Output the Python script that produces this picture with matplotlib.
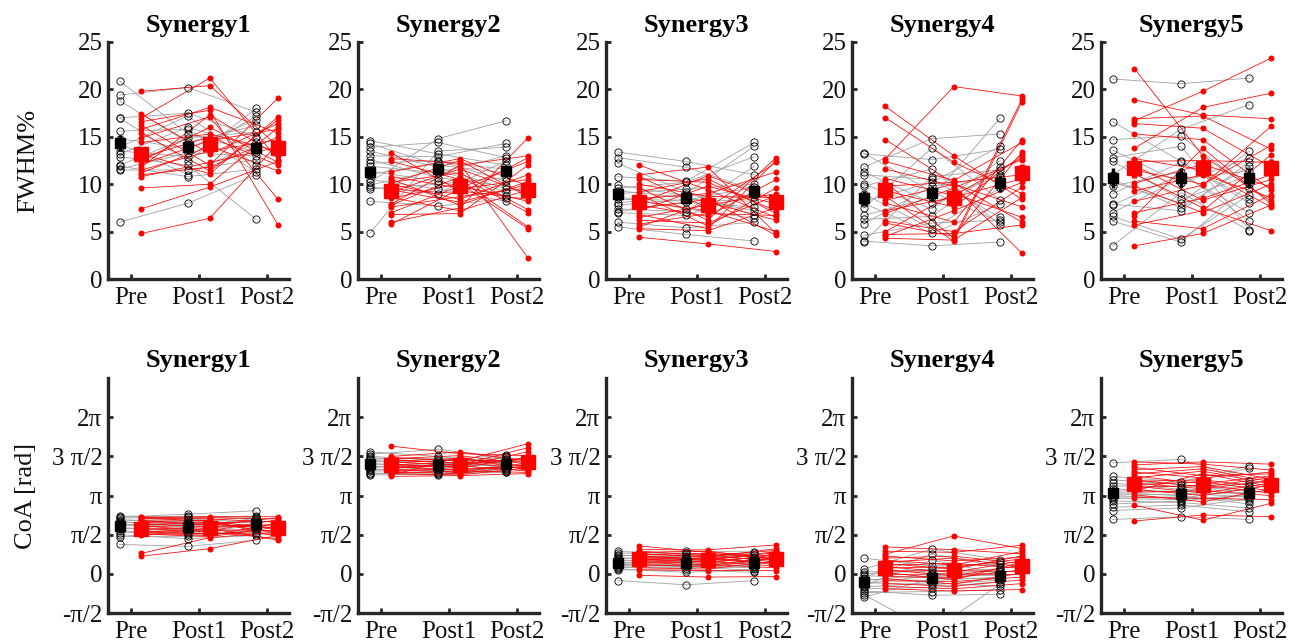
import numpy as np
import matplotlib
matplotlib.use("Agg")
import matplotlib.pyplot as plt

plt.rcParams["font.family"] = ["Liberation Serif", "DejaVu Serif"]
plt.rcParams["axes.unicode_minus"] = False

sessions = ["Pre", "Post1", "Post2"]
synergies = ["Synergy1", "Synergy2", "Synergy3", "Synergy4", "Synergy5"]

# ---------------- FWHM (%) per subject: [Pre, Post1, Post2] ----------------
fwhm_ctrl_syn1 = [[20.9, 15.3, 13.4], [19.4, 20.2, 17.6], [18.8, 14.4, 16.2], [17.0, 17.5, 15.0],
                  [17.0, 12.4, 18.0], [15.6, 15.8, 11.3], [14.8, 13.8, 16.8], [14.3, 11.0, 14.4],
                  [13.9, 17.2, 12.0], [13.5, 12.9, 17.2], [13.2, 16.0, 13.9], [12.9, 12.0, 6.3],
                  [12.0, 14.9, 15.5], [11.9, 10.8, 11.6], [11.6, 13.3, 13.0], [11.5, 11.5, 12.6],
                  [6.0, 8.0, 11.0]]
fwhm_train_syn1 = [[19.8, 20.4, 14.0], [17.4, 13.2, 16.4], [17.0, 21.2, 12.6], [16.6, 17.8, 5.7],
                   [16.2, 12.0, 19.1], [15.8, 18.1, 15.4], [15.4, 11.4, 16.8], [14.9, 17.1, 8.4],
                   [14.4, 15.3, 13.5], [13.2, 11.1, 17.1], [12.5, 16.0, 12.3], [12.1, 14.6, 15.8],
                   [11.8, 17.3, 13.0], [11.5, 13.5, 14.7], [11.2, 14.0, 11.4], [11.0, 11.8, 15.0],
                   [10.8, 12.3, 13.9], [9.6, 10.0, 16.0], [7.4, 9.7, 12.4], [4.8, 6.4, 14.3],
                   [12.8, 15.0, 12.0]]

fwhm_ctrl_syn2 = [[14.6, 13.2, 12.0], [14.3, 12.0, 11.2], [13.9, 14.4, 12.8], [13.5, 11.8, 9.5],
                  [13.0, 12.9, 14.3], [12.6, 10.7, 9.8], [12.2, 12.5, 10.3], [11.9, 11.2, 13.0],
                  [11.4, 10.3, 8.8], [11.0, 12.3, 11.6], [10.5, 9.5, 8.2], [10.2, 14.8, 16.7],
                  [9.9, 11.5, 9.2], [9.7, 9.0, 12.5], [9.5, 10.0, 10.7], [8.2, 7.7, 8.5],
                  [4.8, 13.5, 13.9]]
fwhm_train_syn2 = [[13.3, 9.3, 8.4], [12.7, 12.2, 2.2], [12.4, 10.5, 5.5], [11.3, 12.7, 9.8],
                   [10.8, 9.6, 12.4], [10.5, 7.8, 10.3], [10.2, 11.2, 7.3], [10.0, 8.4, 11.0],
                   [10.1, 12.5, 8.7], [9.5, 9.0, 12.8], [9.2, 11.6, 9.0], [9.4, 8.1, 10.0],
                   [8.5, 10.1, 5.3], [8.6, 7.2, 9.4], [7.9, 12.0, 13.0], [7.6, 8.7, 9.6],
                   [7.8, 10.8, 7.0], [6.8, 6.9, 12.0], [7.0, 9.8, 8.2], [6.0, 7.5, 14.9],
                   [5.8, 9.5, 10.5]]

fwhm_ctrl_syn3 = [[13.4, 12.4, 11.0], [12.8, 11.8, 9.4], [12.2, 9.2, 6.7], [10.8, 10.3, 14.4],
                  [9.9, 8.8, 8.6], [9.6, 10.2, 12.9], [9.3, 8.6, 7.2], [9.0, 9.5, 10.0],
                  [8.7, 7.4, 6.4], [8.4, 8.3, 9.7], [8.0, 9.0, 14.0], [7.8, 8.4, 8.2],
                  [7.4, 7.1, 11.9], [7.1, 8.1, 7.6], [7.0, 6.7, 9.0], [6.0, 5.4, 6.0],
                  [5.5, 4.7, 4.0]]
fwhm_train_syn3 = [[12.0, 9.4, 6.5], [11.0, 11.8, 4.8], [10.8, 7.5, 12.3], [10.5, 10.2, 7.2],
                   [10.0, 8.7, 8.6], [9.6, 6.2, 12.8], [9.2, 10.6, 6.9], [8.9, 5.6, 9.6],
                   [8.5, 9.0, 11.3], [8.2, 7.2, 5.0], [8.0, 10.9, 8.3], [7.8, 6.6, 10.5],
                   [7.5, 8.4, 4.6], [7.2, 9.8, 7.9], [6.8, 5.3, 12.5], [6.5, 7.8, 9.0],
                   [6.2, 5.9, 8.8], [5.8, 6.9, 6.7], [5.5, 8.1, 6.2], [5.3, 5.1, 7.5],
                   [4.4, 3.7, 2.9]]

fwhm_ctrl_syn4 = [[13.3, 9.2, 6.0], [13.2, 12.6, 13.7], [11.8, 14.8, 15.3], [11.3, 8.0, 11.0],
                  [11.0, 10.5, 6.5], [10.0, 7.4, 12.5], [9.8, 11.6, 5.7], [9.0, 5.3, 9.6],
                  [8.2, 10.2, 14.0], [8.0, 4.8, 7.9], [7.5, 13.8, 8.3], [6.7, 8.6, 17.0],
                  [6.3, 6.6, 11.8], [5.8, 9.8, 10.8], [4.6, 5.9, 6.2], [4.0, 3.5, 3.9],
                  [3.9, 10.8, 11.5]]
fwhm_train_syn4 = [[18.2, 13.0, 8.4], [17.0, 12.3, 9.0], [14.7, 10.1, 6.0], [12.7, 20.3, 19.3],
                   [12.4, 10.4, 14.4], [11.6, 9.8, 2.7], [10.6, 8.8, 12.8], [10.2, 4.3, 19.0],
                   [9.8, 10.2, 11.0], [9.3, 7.6, 13.1], [8.7, 4.0, 18.7], [8.3, 10.0, 7.6],
                   [8.0, 6.0, 14.7], [7.2, 8.6, 10.6], [6.9, 9.6, 12.6], [6.1, 5.0, 9.7],
                   [5.9, 4.5, 13.4], [5.0, 9.0, 6.5], [4.7, 4.8, 5.7], [4.5, 7.2, 10.2],
                   [4.3, 4.1, 8.6]]

fwhm_ctrl_syn5 = [[21.1, 20.6, 21.2], [16.6, 12.4, 8.0], [14.7, 15.1, 9.6], [13.6, 10.1, 12.8],
                  [12.8, 14.0, 5.2], [12.4, 8.4, 10.9], [11.0, 15.8, 18.4], [10.5, 7.5, 11.9],
                  [9.8, 11.3, 6.1], [10.2, 8.0, 13.5], [9.0, 12.3, 8.4], [7.9, 7.2, 12.3],
                  [7.8, 11.0, 7.0], [7.0, 10.6, 11.4], [6.6, 4.2, 8.9], [6.1, 3.9, 10.0],
                  [3.5, 9.1, 5.1]]
fwhm_train_syn5 = [[22.2, 13.0, 8.2], [18.9, 17.3, 16.9], [16.9, 17.2, 13.7], [16.7, 19.8, 23.3],
                   [16.4, 15.9, 11.8], [15.3, 14.7, 9.4], [13.8, 18.1, 19.6], [12.7, 11.5, 7.6],
                   [12.4, 12.5, 12.3], [12.0, 8.3, 10.5], [11.5, 10.0, 14.1], [11.1, 7.5, 5.1],
                   [10.1, 12.1, 9.7], [9.8, 7.0, 10.0], [9.3, 11.0, 8.6], [8.2, 9.9, 16.1],
                   [7.0, 8.5, 11.0], [6.6, 13.8, 7.9], [6.1, 5.3, 8.9], [5.7, 7.2, 13.1],
                   [3.5, 4.8, 7.8]]

# ---------------- CoA (rad) per subject: [Pre, Post1, Post2] ----------------
coa_ctrl_syn1 = [[2.32, 2.26, 2.32], [2.28, 2.39, 2.53], [2.23, 2.32, 2.20], [2.17, 2.09, 2.28],
                 [2.12, 2.20, 2.06], [2.07, 1.95, 2.15], [2.04, 2.14, 1.92], [1.99, 1.88, 2.23],
                 [1.96, 2.04, 1.85], [1.92, 1.99, 2.10], [1.85, 1.76, 2.01], [1.81, 1.82, 1.65],
                 [1.73, 1.60, 1.96], [1.65, 1.68, 1.79], [1.57, 1.41, 1.54], [1.49, 1.51, 1.73],
                 [1.18, 1.10, 1.35]]
coa_train_syn1 = [[2.29, 2.20, 2.07], [2.26, 2.29, 2.29], [2.23, 2.12, 1.79], [2.20, 2.25, 2.20],
                  [2.15, 1.95, 2.25], [2.10, 2.15, 1.48], [2.06, 2.03, 2.12], [2.01, 1.87, 1.93],
                  [1.96, 2.07, 1.63], [1.92, 1.73, 2.17], [1.87, 1.99, 1.84], [1.82, 1.68, 1.41],
                  [1.77, 1.90, 1.98], [1.73, 1.59, 1.76], [1.68, 1.82, 1.35], [1.65, 1.54, 2.03],
                  [1.62, 1.77, 1.73], [1.60, 1.49, 1.88], [1.57, 1.63, 1.59], [0.82, 1.45, 1.68],
                  [0.71, 1.01, 1.54]]

coa_ctrl_syn2 = [[4.89, 4.71, 4.43], [4.79, 5.00, 4.62], [4.71, 4.56, 4.76], [4.67, 4.46, 4.30],
                 [4.60, 4.63, 4.52], [4.56, 4.37, 4.71], [4.49, 4.51, 4.26], [4.43, 4.29, 4.48],
                 [4.37, 4.41, 4.16], [4.32, 4.19, 4.57], [4.27, 4.34, 4.38], [4.21, 4.10, 4.21],
                 [4.16, 4.24, 4.67], [4.12, 4.15, 4.13], [4.05, 3.96, 4.35], [4.01, 4.05, 4.10],
                 [3.96, 4.01, 4.07]]
coa_train_syn2 = [[5.12, 4.82, 4.74], [4.71, 4.89, 4.54], [4.67, 4.52, 5.22], [4.62, 4.74, 4.40],
                  [4.57, 4.43, 4.63], [4.52, 4.62, 4.30], [4.48, 4.37, 5.06], [4.45, 4.57, 4.49],
                  [4.40, 4.26, 4.68], [4.37, 4.48, 4.21], [4.34, 4.30, 4.90], [4.30, 4.16, 4.37],
                  [4.27, 4.40, 4.59], [4.24, 4.34, 4.12], [4.19, 4.07, 4.45], [4.15, 4.21, 4.27],
                  [4.10, 4.02, 4.34], [4.05, 4.12, 4.07], [4.01, 3.97, 4.24], [3.96, 4.68, 4.16],
                  [3.91, 3.94, 4.02]]

coa_ctrl_syn3 = [[0.90, 0.79, 0.69], [0.82, 0.90, 0.88], [0.75, 0.68, 0.82], [0.71, 0.85, 0.57],
                 [0.64, 0.58, 0.75], [0.60, 0.72, 0.47], [0.55, 0.49, 0.63], [0.50, 0.63, 0.52],
                 [0.46, 0.44, 0.38], [0.41, 0.53, 0.42], [0.38, 0.35, 0.24], [0.33, 0.39, 0.33],
                 [0.28, 0.24, 0.28], [0.24, 0.30, 0.13], [0.20, 0.06, 0.19], [0.16, 0.16, 0.06],
                 [-0.27, -0.44, -0.27]]
coa_train_syn3 = [[1.12, 0.86, 0.71], [0.97, 0.96, 1.16], [0.91, 0.72, 0.94], [0.86, 0.91, 0.58],
                  [0.82, 0.66, 1.01], [0.77, 0.82, 0.61], [0.72, 0.57, 0.85], [0.69, 0.77, 0.47],
                  [0.66, 0.53, 0.90], [0.63, 0.69, 0.55], [0.60, 0.47, 0.75], [0.57, 0.63, 0.42],
                  [0.53, 0.42, 0.80], [0.50, 0.60, 0.38], [0.47, 0.33, 0.68], [0.42, 0.50, 0.31],
                  [0.38, 0.27, 0.64], [0.31, 0.38, 0.24], [0.24, 0.19, 0.52], [0.16, 0.13, 0.13],
                  [-0.06, -0.13, -0.11]]

coa_ctrl_syn4 = [[0.63, 0.31, 0.38], [0.19, 0.99, 0.57], [0.08, 0.08, 0.20], [0.00, 0.19, 0.47],
                 [-0.08, -0.13, 0.06], [-0.16, 0.79, 0.28], [-0.22, -0.27, -0.13], [-0.28, 0.00, 0.13],
                 [-0.35, -0.44, -0.25], [-0.41, -0.06, -0.06], [-0.47, 0.55, 0.00], [-0.53, -0.35, -0.50],
                 [-0.60, -0.55, -0.31], [-0.68, -0.86, -0.82], [-0.75, -0.71, -0.63], [-0.83, -2.31, -0.41],
                 [-0.94, -0.19, -0.19]]
coa_train_syn4 = [[1.08, 0.97, 0.80], [0.91, 0.86, 1.15], [0.79, 1.52, 1.01], [0.71, 0.52, 0.66],
                  [0.63, 0.71, 0.41], [0.55, 0.35, 0.90], [0.47, 0.63, 0.28], [0.41, 0.19, 0.72],
                  [0.35, 0.42, 0.22], [0.28, 0.06, 0.53], [0.24, 0.27, 0.60], [0.17, -0.08, 0.35],
                  [0.11, 0.13, 0.09], [0.05, -0.24, 0.47], [-0.03, 0.00, -0.03], [-0.11, -0.16, 0.16],
                  [-0.19, -0.41, 0.03], [-0.28, -0.31, -0.13], [-0.39, -0.50, -0.24], [-0.50, -0.60, -0.39],
                  [-0.60, -0.69, -0.63]]

coa_ctrl_syn5 = [[4.45, 4.59, 3.74], [3.91, 3.69, 4.32], [3.77, 3.58, 4.24], [3.64, 3.39, 3.33],
                 [3.53, 3.49, 3.61], [3.42, 3.24, 3.08], [3.33, 3.31, 3.52], [3.27, 3.13, 2.80],
                 [3.20, 3.17, 3.27], [3.14, 3.03, 3.42], [3.08, 3.08, 2.92], [3.02, 2.98, 3.14],
                 [2.92, 2.86, 2.64], [2.80, 2.92, 3.20], [2.67, 2.76, 2.48], [2.54, 2.64, 3.02],
                 [2.18, 2.29, 2.18]]
coa_train_syn5 = [[4.49, 4.40, 4.16], [4.37, 4.49, 4.40], [4.27, 3.93, 4.01], [4.18, 4.30, 3.80],
                  [4.08, 3.85, 4.08], [4.01, 4.21, 3.69], [3.93, 3.61, 3.93], [3.85, 4.12, 3.60],
                  [3.77, 3.49, 3.86], [3.71, 3.77, 3.46], [3.64, 3.41, 3.74], [3.58, 3.69, 3.33],
                  [3.52, 3.24, 3.64], [3.46, 3.55, 3.24], [3.39, 3.14, 3.55], [3.33, 4.02, 3.50],
                  [3.27, 3.33, 3.14], [3.17, 2.89, 3.39], [3.06, 3.03, 2.98], [2.75, 2.15, 2.83],
                  [2.12, 2.36, 2.29]]

fwhm_ticks = [0, 5, 10, 15, 20, 25]
coa_tick_labels = ["-π/2", "0", "π/2", "π", "3 π/2", "2π"]

fwhm_ctrl = [fwhm_ctrl_syn1, fwhm_ctrl_syn2, fwhm_ctrl_syn3, fwhm_ctrl_syn4, fwhm_ctrl_syn5]
fwhm_train = [fwhm_train_syn1, fwhm_train_syn2, fwhm_train_syn3, fwhm_train_syn4, fwhm_train_syn5]
coa_ctrl = [coa_ctrl_syn1, coa_ctrl_syn2, coa_ctrl_syn3, coa_ctrl_syn4, coa_ctrl_syn5]
coa_train = [coa_train_syn1, coa_train_syn2, coa_train_syn3, coa_train_syn4, coa_train_syn5]

# ---------------- styling ----------------
AX_COLOR = "#262626"
GRAY = "#a0a0a0"
RED = "#ff0000"
OFF = 0.16

W, H = 1302, 644
fig = plt.figure(figsize=(W / 100, H / 100), dpi=100)

lefts_px = [108, 358, 606, 852, 1101]
width_px = 181
rows = [(42, 279), (378, 613)]   # (top, bottom) in pixels


def px_axes(left, top, bottom):
    return fig.add_axes([left / W, 1 - bottom / H, width_px / W, (bottom - top) / H])


def draw_panel(ax, ctrl, train):
    ctrl = np.asarray(ctrl, dtype=float)
    train = np.asarray(train, dtype=float)
    x = np.arange(1, len(sessions) + 1)
    for row in ctrl:
        ax.plot(x - OFF, row, color=GRAY, lw=0.6, zorder=1)
    for row in train:
        ax.plot(x + OFF, row, color=RED, lw=0.55, zorder=2)
    for j in range(len(sessions)):
        ax.plot(np.full(len(ctrl), x[j] - OFF), ctrl[:, j], "o", ms=5.2, mfc="none",
                mec="black", mew=0.6, zorder=3)
        ax.plot(np.full(len(train), x[j] + OFF), train[:, j], "o", ms=4.3, mfc=RED,
                mec=RED, mew=0, zorder=4)
    for data, dx, col, ms, elw in ((ctrl, -OFF, "black", 7.5, 2.5), (train, OFF, RED, 9.5, 3.8)):
        mean = data.mean(axis=0)
        sem = data.std(axis=0, ddof=1) / np.sqrt(len(data))
        ax.errorbar(x + dx, mean, yerr=sem, fmt="s", color=col, ms=ms, mec=col,
                    elinewidth=elw, capsize=0, zorder=6)
    ax.set_xlim(0.67, 3.32)
    ax.set_xticks(x)
    ax.set_xticklabels(sessions)
    for side in ("top", "right"):
        ax.spines[side].set_visible(False)
    for side in ("left", "bottom"):
        ax.spines[side].set_linewidth(2.4)
        ax.spines[side].set_color(AX_COLOR)
    ax.tick_params(direction="in", length=3.5, width=2, colors=AX_COLOR,
                   labelsize=18, labelcolor="#111111")
    ax.tick_params(axis="x", pad=6)
    ax.tick_params(axis="y", pad=4)


for i, name in enumerate(synergies):
    ax = px_axes(lefts_px[i], *rows[0])
    draw_panel(ax, fwhm_ctrl[i], fwhm_train[i])
    ax.set_ylim(0, 25)
    ax.set_yticks(fwhm_ticks)
    ax.set_title(name, fontsize=19, fontweight="bold", pad=7)

    ax = px_axes(lefts_px[i], *rows[1])
    draw_panel(ax, coa_ctrl[i], coa_train[i])
    ax.set_ylim(-np.pi / 2, 5 * np.pi / 2)
    ax.set_yticks(np.arange(-1, 5) * np.pi / 2)
    ax.set_yticklabels(coa_tick_labels)
    ax.set_title(name, fontsize=19, fontweight="bold", pad=8)

fig.text(28 / W, 1 - (42 + 279) / 2 / H, "FWHM%", rotation=90, ha="center", va="center",
         fontsize=19, color="#111111")
fig.text(26 / W, 1 - (378 + 613) / 2 / H, "CoA [rad]", rotation=90, ha="center", va="center",
         fontsize=19, color="#111111")

fig.savefig("out.png", dpi=100)
